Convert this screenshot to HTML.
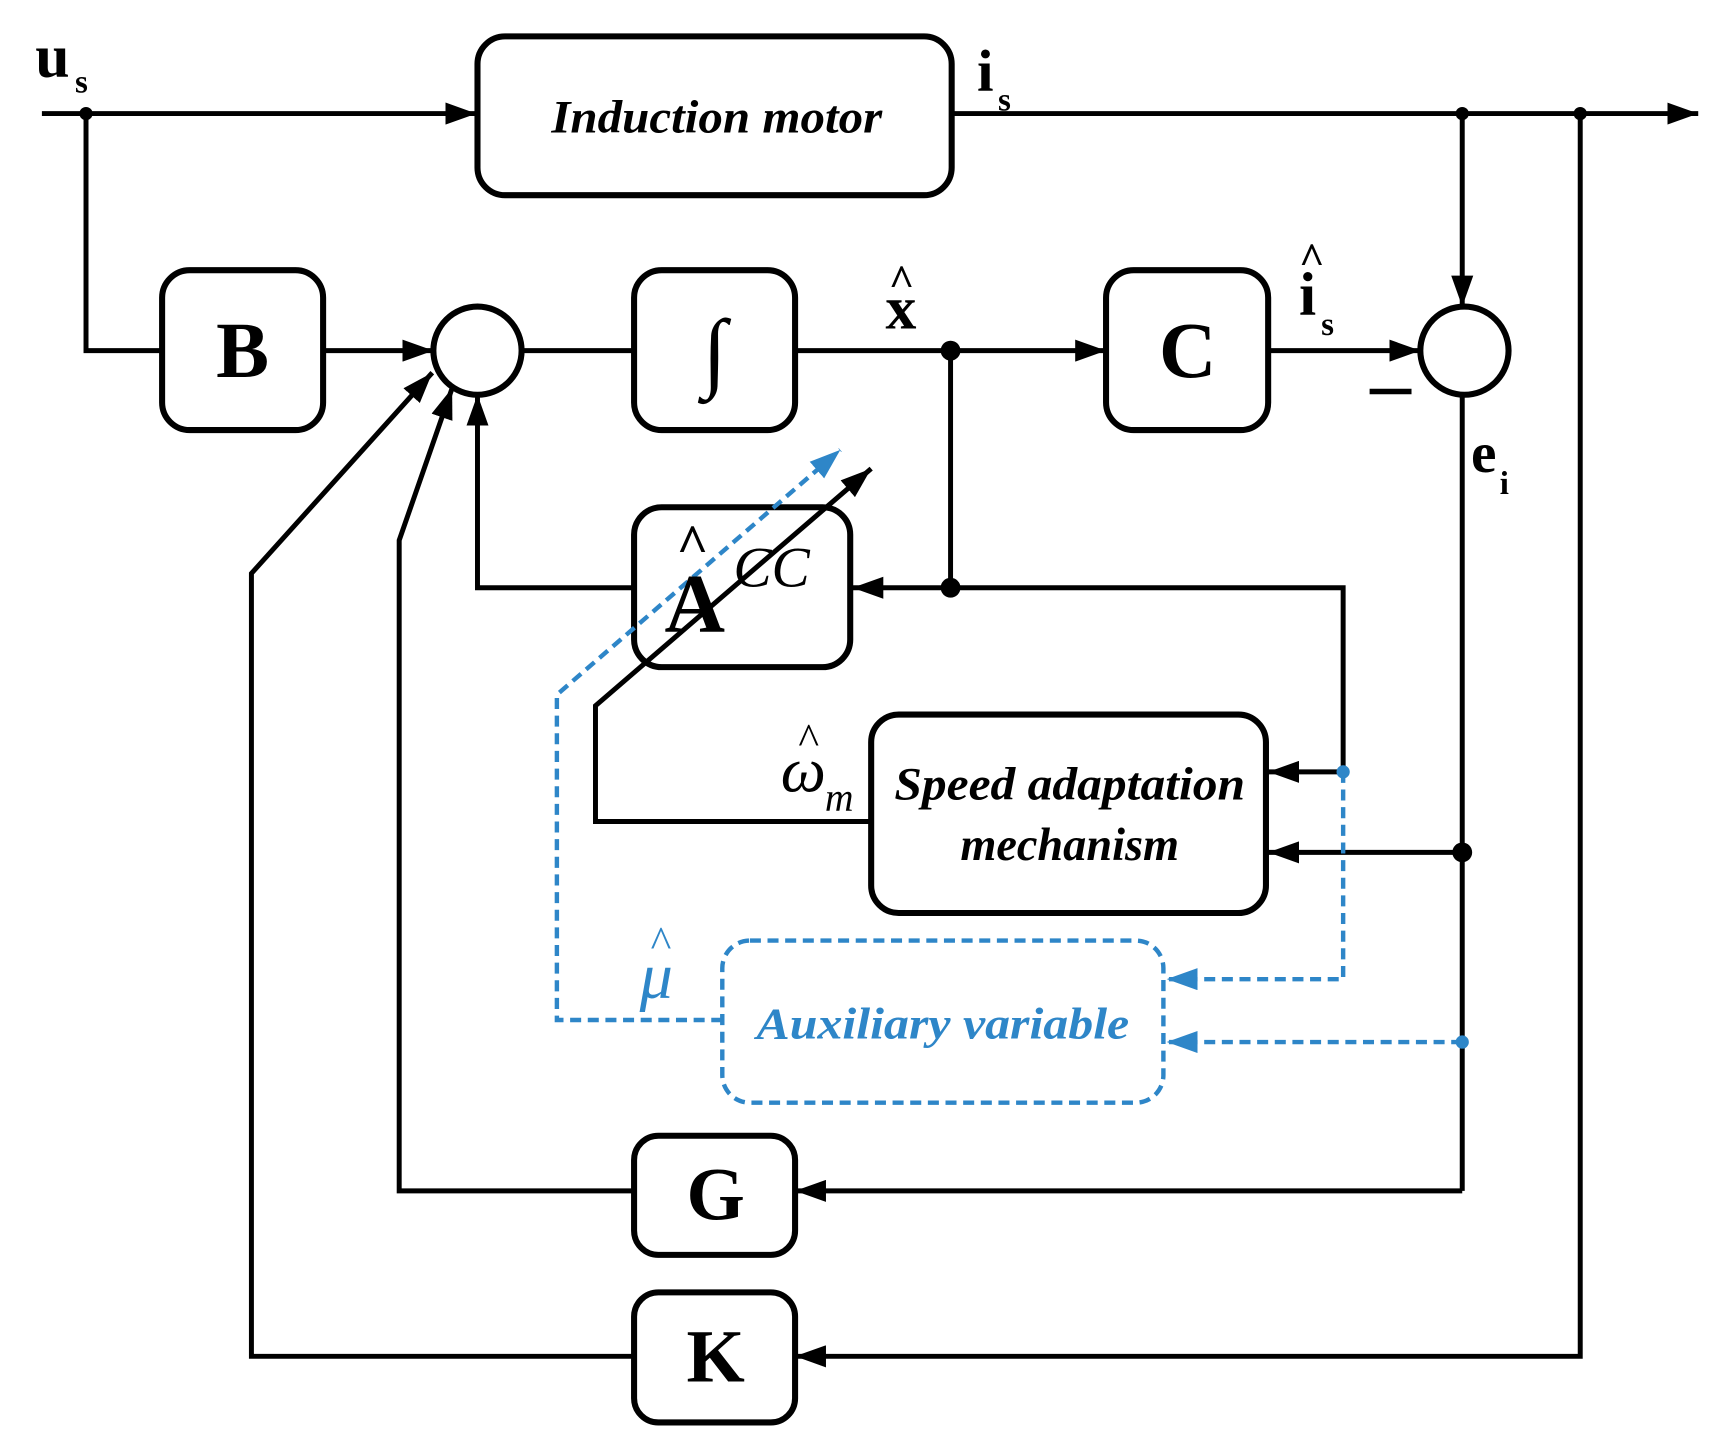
<!DOCTYPE html>
<html><head><meta charset="utf-8"><style>html,body{margin:0;padding:0;background:#fff}svg{display:block}</style></head>
<body>
<svg width="1728" height="1454" viewBox="0 0 1567 1318.6" preserveAspectRatio="none" xmlns="http://www.w3.org/2000/svg" font-family="Liberation Serif, serif">
<defs>
<marker id="ab" viewBox="0 0 10 10" refX="10" refY="5" markerWidth="28" markerHeight="20" orient="auto" markerUnits="userSpaceOnUse" preserveAspectRatio="none"><path d="M0,0 L10,5 L0,10 z" fill="#000"/></marker>
<marker id="bb" viewBox="0 0 10 10" refX="10" refY="5" markerWidth="28" markerHeight="20" orient="auto" markerUnits="userSpaceOnUse" preserveAspectRatio="none"><path d="M0,0 L10,5 L0,10 z" fill="#2e86c8"/></marker>
</defs>
<g fill="none" stroke="#000" stroke-width="4.5">
<line x1="38" y1="103" x2="432" y2="103" marker-end="url(#ab)"/>
<line x1="863" y1="103" x2="1540" y2="103" marker-end="url(#ab)"/>
<polyline points="78,103 78,318 147,318"/>
<line x1="293" y1="318" x2="393" y2="318" marker-end="url(#ab)"/>
<line x1="473" y1="318" x2="575" y2="318"/>
<line x1="721" y1="318" x2="1003" y2="318" marker-end="url(#ab)"/>
<line x1="1150" y1="318" x2="1288" y2="318" marker-end="url(#ab)"/>
<line x1="1326" y1="103" x2="1326" y2="278" marker-end="url(#ab)"/>
<line x1="1326" y1="358" x2="1326" y2="1080"/>
<line x1="862" y1="318" x2="862" y2="533"/>
<polyline points="1218,700 1218,533 773,533" marker-end="url(#ab)"/>
<polyline points="575,533 433,533 433,358" marker-end="url(#ab)"/>
<line x1="1218" y1="700" x2="1150" y2="700" marker-end="url(#ab)"/>
<line x1="1326" y1="773" x2="1150" y2="773" marker-end="url(#ab)"/>
<polyline points="790,745 540,745 540,640 790,425" marker-end="url(#ab)"/>
<line x1="1326" y1="1080" x2="721" y2="1080" marker-end="url(#ab)"/>
<polyline points="575,1080 362,1080 362,490 410,352" marker-end="url(#ab)"/>
<polyline points="1433,103 1433,1230 721,1230" marker-end="url(#ab)"/>
<polyline points="575,1230 228,1230 228,520 392,338" marker-end="url(#ab)"/>
<line x1="1242" y1="355" x2="1280" y2="355" stroke-width="5"/>
</g>
<g fill="#fff" stroke="#000" stroke-width="5.5">
<rect x="433" y="33" width="430" height="144" rx="25"/>
<rect x="147" y="245" width="146" height="145" rx="25"/>
<rect x="575" y="245" width="146" height="145" rx="25"/>
<rect x="1003" y="245" width="147" height="145" rx="25"/>
<circle cx="433" cy="318" r="40"/>
<circle cx="1328" cy="318" r="40"/>
<rect x="790" y="648" width="358" height="180" rx="25"/>
<rect x="575" y="1030" width="146" height="108" rx="22"/>
<rect x="575" y="1172" width="146" height="118" rx="22"/>
</g>
<rect x="575" y="460" width="196" height="145" rx="25" fill="none" stroke="#000" stroke-width="5.5"/>
<g fill="#000"><circle cx="78" cy="103" r="6"/><circle cx="1326" cy="103" r="6"/><circle cx="1433" cy="103" r="6"/><circle cx="862" cy="318" r="9"/><circle cx="862" cy="533" r="9"/><circle cx="1326" cy="773" r="9"/></g>
<g fill="none" stroke="#2e86c8" stroke-width="4" stroke-dasharray="10,6">
<rect x="655" y="853" width="400" height="147" rx="25"/>
<polyline points="655,925 505,925 505,630 762,408" marker-end="url(#bb)"/>
<polyline points="1218,700 1218,888 1058,888" marker-end="url(#bb)"/>
<line x1="1326" y1="945" x2="1058" y2="945" marker-end="url(#bb)"/>
</g>
<g fill="#2e86c8"><circle cx="1218" cy="700" r="6"/><circle cx="1326" cy="945" r="6"/></g>
<g font-weight="bold" text-anchor="middle">
<text x="650" y="120" font-size="42" font-style="italic" textLength="300" lengthAdjust="spacingAndGlyphs">Induction motor</text>
<text x="220" y="342" font-size="72">B</text>
<text x="648" y="345" font-size="80">∫</text>
<text x="1077" y="342" font-size="72">C</text>
<text x="649" y="1106" font-size="68">G</text>
<text x="649" y="1253" font-size="68">K</text>
<text x="630" y="573" font-size="76">A</text>
<text x="628" y="510" font-size="50">^</text>
<text x="970" y="725" font-size="42" font-style="italic" textLength="318" lengthAdjust="spacingAndGlyphs">Speed adaptation</text>
<text x="970" y="780" font-size="42" font-style="italic">mechanism</text>
<text x="855" y="942" font-size="40" font-style="italic" fill="#2e86c8" textLength="338" lengthAdjust="spacingAndGlyphs">Auxiliary variable</text>
</g>
<g font-weight="bold">
<text x="32" y="70" font-size="56">u</text><text x="68" y="84" font-size="30">s</text>
<text x="886" y="82" font-size="54">i</text><text x="905" y="100" font-size="30">s</text>
<text x="803" y="298" font-size="56">x</text><text x="806" y="268" font-size="40">^</text>
<text x="1178" y="285" font-size="56">i</text><text x="1178" y="248" font-size="40">^</text><text x="1198" y="304" font-size="30">s</text>
<text x="1334" y="428" font-size="52">e</text><text x="1360" y="448" font-size="30">i</text>
</g>
<text x="665" y="532" font-size="52" font-style="italic" fill="#000">CC</text>
<text x="708" y="718" font-size="58" font-style="italic">ω</text><text x="724" y="684" font-size="40">^</text><text x="748" y="735" font-size="36" font-style="italic">m</text>
<text x="580" y="905" font-size="60" font-style="italic" fill="#2e86c8">μ</text><text x="590" y="868" font-size="40" fill="#2e86c8">^</text>
</svg>
</body></html>
